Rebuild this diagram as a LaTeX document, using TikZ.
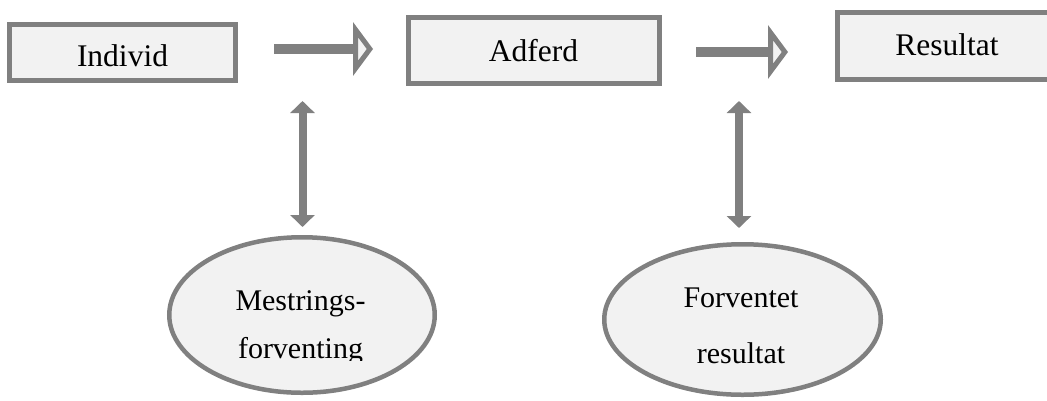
\documentclass[tikz,border=0pt]{standalone}
\usepackage{fontspec}
\setmainfont{Liberation Serif}
\usetikzlibrary{arrows.meta,shapes.geometric}

\definecolor{edgegray}{HTML}{808080}
\definecolor{boxfill}{HTML}{F2F2F2}

\tikzset{
  stagebox/.style={draw=edgegray, fill=boxfill, line width=5bp, rectangle,
    inner sep=0pt},
  oval/.style={draw=edgegray, fill=boxfill, line width=4.5bp, ellipse,
    inner sep=0pt},
  boxlabel/.style={anchor=base, inner sep=0pt,
    font=\fontsize{31.5bp}{36bp}\selectfont},
  ovallabel/.style={anchor=base, inner sep=0pt,
    font=\fontsize{30bp}{34bp}\selectfont},
  shaft/.style={draw=edgegray, line width=10bp, line cap=butt},
  twoway/.style={draw=edgegray, line width=8bp,
    {Triangle[width=24bp,length=12bp]}-{Triangle[width=24bp,length=12bp]}},
  openhead/.pic={
    \draw[draw=edgegray, fill=boxfill, line width=5bp, line join=miter]
      (2.5,-19.4) -- (16.9,0) -- (2.5,19.4) -- cycle;
  },
}

\begin{document}
\begin{tikzpicture}[x=1bp, y=-1bp]
  \useasboundingbox (0,0) rectangle (1047,400);
  \clip (0,0) rectangle (1047,400);

  % the three stages
  \node[stagebox, minimum width=225.5bp, minimum height=56.6bp] (ind) at (122.5,52.5) {};
  \node[stagebox, minimum width=251bp, minimum height=66bp] (adf) at (534,50.5) {};
  \node[stagebox, minimum width=219bp, minimum height=67bp] (res) at (947,46) {};
  \node[boxlabel] (indt) at (122.5,66.7) {Individ};
  \node[boxlabel] (adft) at (533.5,61.7) {Adferd};
  \node[boxlabel] (rest) at (947,55) {Resultat};

  % forward arrows between the stages
  \coordinate (h1s) at (274,49);
  \coordinate (h1e) at (353,49);
  \coordinate (h2s) at (696,52);
  \coordinate (h2e) at (768,52);
  \draw[shaft] (h1s) -- (h1e);
  \pic at (h1e) {openhead};
  \draw[shaft] (h2s) -- (h2e);
  \pic at (h2e) {openhead};

  % the two expectations
  \node[oval, minimum width=265.5bp, minimum height=155.5bp] (mes) at (302,315) {};
  \node[oval, minimum width=276.5bp, minimum height=150.5bp] (fov) at (742.5,319.5) {};
  \node[ovallabel] (mes1) at (300.5,310) {Mestrings-};
  \begin{scope}
    \clip (150,230) rectangle (450,360);
    \node[ovallabel] (mes2) at (300.5,358) {forventing};
  \end{scope}
  \node[ovallabel] (fov1) at (741,307) {Forventet};
  \node[ovallabel] (fov2) at (741,363) {resultat};

  % two-way links up to the forward arrows
  \coordinate (v1t) at (302.5,101);
  \coordinate (v1b) at (302.5,227);
  \coordinate (v2t) at (739,101);
  \coordinate (v2b) at (739,228);
  \draw[twoway] (v1t) -- (v1b);
  \draw[twoway] (v2t) -- (v2b);
\end{tikzpicture}
\end{document}
